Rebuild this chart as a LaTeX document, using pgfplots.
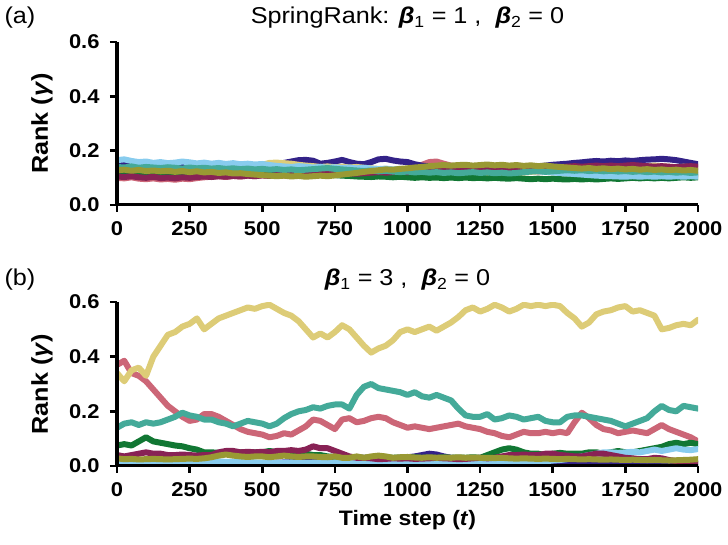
\documentclass[border=0pt]{standalone}
\usepackage{fontspec}
\setmainfont{Liberation Sans}[FakeStretch=1.1]
\usepackage{pgfplots}
\usepackage{pgfplotstable}
\pgfplotsset{compat=1.18}

% Paul Tol "muted" palette
\definecolor{tolrose}{HTML}{CC6677}
\definecolor{tolindigo}{HTML}{332288}
\definecolor{tolsand}{HTML}{DDCC77}
\definecolor{tolgreen}{HTML}{117733}
\definecolor{tolcyan}{HTML}{88CCEE}
\definecolor{tolwine}{HTML}{882255}
\definecolor{tolteal}{HTML}{44AA99}
\definecolor{tololive}{HTML}{999933}

% SpringRank, beta_1 = 1, beta_2 = 0
\pgfplotstableread{
t rose indigo sand green cyan wine teal olive
0 0.100 0.148 0.122 0.115 0.165 0.105 0.140 0.128
25 0.098 0.150 0.125 0.114 0.168 0.103 0.138 0.130
50 0.102 0.146 0.128 0.116 0.162 0.106 0.142 0.126
75 0.097 0.144 0.124 0.113 0.158 0.102 0.137 0.129
100 0.095 0.147 0.126 0.115 0.160 0.100 0.140 0.125
125 0.098 0.142 0.122 0.117 0.155 0.104 0.138 0.127
150 0.094 0.145 0.127 0.114 0.158 0.099 0.136 0.124
175 0.096 0.143 0.124 0.116 0.154 0.101 0.139 0.126
200 0.093 0.146 0.128 0.113 0.156 0.098 0.137 0.122
225 0.097 0.141 0.125 0.115 0.160 0.102 0.134 0.125
250 0.095 0.144 0.129 0.117 0.157 0.100 0.138 0.121
275 0.099 0.142 0.126 0.114 0.153 0.103 0.135 0.124
300 0.102 0.145 0.130 0.116 0.156 0.105 0.137 0.120
325 0.104 0.141 0.128 0.113 0.152 0.103 0.134 0.122
350 0.106 0.143 0.132 0.115 0.155 0.106 0.136 0.118
375 0.103 0.140 0.135 0.117 0.151 0.104 0.133 0.120
400 0.107 0.142 0.136 0.114 0.154 0.107 0.135 0.116
425 0.105 0.139 0.134 0.116 0.150 0.105 0.132 0.117
450 0.108 0.141 0.137 0.113 0.152 0.108 0.134 0.114
475 0.106 0.143 0.140 0.115 0.149 0.106 0.131 0.112
500 0.109 0.140 0.148 0.117 0.151 0.109 0.133 0.110
525 0.107 0.145 0.155 0.114 0.147 0.107 0.130 0.108
550 0.110 0.150 0.156 0.116 0.144 0.110 0.132 0.106
575 0.108 0.155 0.154 0.113 0.142 0.112 0.129 0.108
600 0.111 0.160 0.152 0.115 0.140 0.114 0.131 0.105
625 0.109 0.165 0.148 0.117 0.143 0.116 0.128 0.107
650 0.112 0.166 0.145 0.114 0.141 0.118 0.130 0.104
675 0.110 0.163 0.143 0.116 0.138 0.120 0.132 0.106
700 0.113 0.152 0.140 0.113 0.140 0.118 0.134 0.108
725 0.111 0.155 0.142 0.112 0.137 0.116 0.136 0.106
750 0.114 0.160 0.139 0.110 0.139 0.114 0.133 0.109
775 0.112 0.166 0.141 0.108 0.136 0.115 0.131 0.112
800 0.115 0.158 0.138 0.107 0.138 0.117 0.129 0.115
825 0.113 0.152 0.140 0.105 0.135 0.115 0.127 0.118
850 0.116 0.150 0.137 0.104 0.137 0.117 0.125 0.122
875 0.114 0.158 0.135 0.103 0.134 0.119 0.127 0.125
900 0.117 0.168 0.133 0.105 0.132 0.121 0.124 0.128
925 0.119 0.170 0.131 0.104 0.134 0.119 0.126 0.131
950 0.122 0.164 0.129 0.102 0.131 0.121 0.123 0.130
975 0.125 0.160 0.127 0.104 0.133 0.123 0.121 0.133
1000 0.130 0.158 0.125 0.102 0.130 0.121 0.123 0.135
1025 0.138 0.150 0.123 0.100 0.132 0.123 0.120 0.138
1050 0.148 0.145 0.121 0.102 0.135 0.125 0.122 0.140
1075 0.158 0.142 0.118 0.100 0.138 0.123 0.119 0.143
1100 0.160 0.140 0.115 0.101 0.140 0.125 0.121 0.145
1125 0.152 0.138 0.112 0.099 0.137 0.127 0.118 0.147
1150 0.145 0.136 0.110 0.101 0.139 0.125 0.120 0.145
1175 0.140 0.138 0.108 0.099 0.136 0.127 0.117 0.147
1200 0.137 0.135 0.106 0.101 0.138 0.129 0.119 0.148
1225 0.135 0.137 0.104 0.099 0.135 0.127 0.121 0.145
1250 0.133 0.134 0.106 0.100 0.133 0.129 0.118 0.147
1275 0.131 0.136 0.109 0.098 0.136 0.131 0.120 0.149
1300 0.129 0.133 0.112 0.100 0.134 0.129 0.117 0.146
1325 0.127 0.135 0.114 0.098 0.131 0.131 0.119 0.148
1350 0.129 0.133 0.116 0.097 0.133 0.133 0.116 0.145
1375 0.126 0.136 0.118 0.099 0.130 0.131 0.118 0.147
1400 0.124 0.138 0.120 0.097 0.128 0.133 0.121 0.144
1425 0.126 0.140 0.122 0.095 0.126 0.135 0.123 0.146
1450 0.123 0.142 0.124 0.097 0.124 0.133 0.125 0.143
1475 0.125 0.145 0.126 0.095 0.122 0.135 0.122 0.145
1500 0.122 0.148 0.128 0.097 0.120 0.137 0.124 0.142
1525 0.124 0.150 0.126 0.095 0.118 0.139 0.126 0.140
1550 0.121 0.152 0.128 0.094 0.116 0.141 0.128 0.138
1575 0.123 0.155 0.130 0.096 0.114 0.143 0.126 0.136
1600 0.120 0.157 0.128 0.094 0.112 0.141 0.128 0.134
1625 0.122 0.160 0.130 0.096 0.110 0.143 0.125 0.136
1650 0.119 0.162 0.132 0.094 0.108 0.145 0.127 0.133
1675 0.121 0.160 0.130 0.096 0.107 0.143 0.124 0.135
1700 0.118 0.163 0.133 0.098 0.106 0.145 0.126 0.132
1725 0.120 0.161 0.135 0.096 0.105 0.143 0.123 0.134
1750 0.117 0.164 0.137 0.098 0.104 0.145 0.125 0.131
1775 0.119 0.162 0.139 0.100 0.106 0.147 0.122 0.133
1800 0.116 0.165 0.141 0.098 0.104 0.145 0.124 0.130
1825 0.118 0.167 0.143 0.100 0.106 0.143 0.121 0.132
1850 0.115 0.168 0.145 0.098 0.104 0.141 0.123 0.129
1875 0.117 0.170 0.143 0.100 0.106 0.143 0.120 0.131
1900 0.114 0.168 0.141 0.098 0.104 0.141 0.122 0.128
1925 0.116 0.165 0.139 0.100 0.106 0.139 0.119 0.130
1950 0.113 0.160 0.141 0.102 0.104 0.141 0.121 0.127
1975 0.115 0.155 0.139 0.100 0.106 0.143 0.118 0.129
2000 0.112 0.150 0.137 0.102 0.104 0.141 0.120 0.126
}\rankA

% beta_1 = 3, beta_2 = 0
\pgfplotstableread{
t rose indigo sand green cyan wine teal olive
0 0.370 0.010 0.340 0.075 0.012 0.040 0.140 0.028
25 0.385 0.008 0.310 0.080 0.010 0.035 0.155 0.025
50 0.340 0.009 0.350 0.075 0.012 0.040 0.160 0.026
75 0.330 0.007 0.360 0.090 0.010 0.045 0.150 0.024
100 0.310 0.008 0.330 0.105 0.012 0.050 0.160 0.025
125 0.280 0.009 0.400 0.090 0.011 0.045 0.155 0.026
150 0.250 0.008 0.440 0.085 0.012 0.045 0.160 0.025
175 0.220 0.007 0.480 0.080 0.014 0.040 0.170 0.024
200 0.200 0.008 0.490 0.075 0.015 0.040 0.180 0.025
225 0.180 0.007 0.510 0.072 0.016 0.042 0.195 0.026
250 0.165 0.006 0.520 0.065 0.018 0.040 0.185 0.027
275 0.170 0.007 0.540 0.060 0.017 0.038 0.180 0.026
300 0.190 0.006 0.500 0.050 0.018 0.040 0.170 0.028
325 0.190 0.007 0.520 0.050 0.016 0.040 0.170 0.032
350 0.180 0.008 0.540 0.048 0.017 0.050 0.160 0.038
375 0.165 0.007 0.550 0.050 0.015 0.055 0.155 0.042
400 0.150 0.006 0.560 0.047 0.016 0.055 0.145 0.038
425 0.135 0.007 0.570 0.050 0.014 0.050 0.155 0.035
450 0.125 0.008 0.580 0.048 0.015 0.052 0.165 0.033
475 0.120 0.009 0.575 0.050 0.013 0.050 0.160 0.035
500 0.115 0.010 0.585 0.050 0.012 0.052 0.155 0.035
525 0.105 0.011 0.590 0.055 0.012 0.050 0.145 0.032
550 0.110 0.012 0.575 0.050 0.011 0.055 0.155 0.035
575 0.120 0.013 0.560 0.045 0.012 0.055 0.175 0.038
600 0.115 0.014 0.550 0.050 0.013 0.058 0.190 0.035
625 0.130 0.015 0.530 0.050 0.012 0.055 0.200 0.033
650 0.145 0.016 0.500 0.045 0.011 0.060 0.205 0.035
675 0.170 0.018 0.470 0.040 0.012 0.072 0.215 0.035
700 0.165 0.020 0.485 0.040 0.013 0.065 0.210 0.033
725 0.150 0.022 0.470 0.035 0.012 0.065 0.220 0.032
750 0.135 0.025 0.490 0.033 0.013 0.055 0.225 0.035
775 0.170 0.025 0.515 0.030 0.014 0.045 0.225 0.030
800 0.175 0.022 0.500 0.030 0.015 0.035 0.210 0.030
825 0.160 0.020 0.470 0.032 0.016 0.030 0.260 0.035
850 0.165 0.018 0.440 0.030 0.015 0.030 0.290 0.030
875 0.175 0.020 0.415 0.031 0.014 0.028 0.300 0.035
900 0.180 0.022 0.430 0.030 0.013 0.025 0.285 0.038
925 0.175 0.025 0.440 0.032 0.012 0.026 0.280 0.035
950 0.160 0.028 0.460 0.030 0.012 0.028 0.275 0.030
975 0.150 0.030 0.490 0.031 0.011 0.027 0.270 0.032
1000 0.140 0.032 0.500 0.030 0.012 0.028 0.260 0.033
1025 0.145 0.035 0.490 0.032 0.013 0.026 0.270 0.031
1050 0.140 0.040 0.500 0.030 0.012 0.027 0.255 0.030
1075 0.135 0.045 0.510 0.031 0.012 0.028 0.250 0.032
1100 0.140 0.042 0.495 0.030 0.011 0.030 0.260 0.030
1125 0.145 0.035 0.510 0.032 0.010 0.028 0.250 0.031
1150 0.150 0.030 0.525 0.030 0.010 0.027 0.240 0.030
1175 0.155 0.028 0.545 0.031 0.010 0.025 0.210 0.032
1200 0.145 0.025 0.570 0.030 0.010 0.026 0.185 0.030
1225 0.140 0.022 0.580 0.032 0.010 0.028 0.180 0.031
1250 0.135 0.020 0.565 0.030 0.010 0.030 0.180 0.030
1275 0.125 0.018 0.575 0.040 0.011 0.028 0.190 0.030
1300 0.120 0.015 0.590 0.050 0.011 0.030 0.170 0.029
1325 0.110 0.015 0.580 0.060 0.012 0.035 0.175 0.030
1350 0.105 0.014 0.565 0.065 0.012 0.040 0.185 0.028
1375 0.115 0.013 0.575 0.060 0.013 0.040 0.180 0.027
1400 0.125 0.012 0.590 0.050 0.013 0.042 0.170 0.028
1425 0.120 0.012 0.585 0.045 0.014 0.040 0.175 0.027
1450 0.120 0.011 0.590 0.045 0.015 0.040 0.180 0.026
1475 0.125 0.010 0.585 0.040 0.017 0.045 0.165 0.027
1500 0.120 0.010 0.590 0.045 0.020 0.045 0.160 0.026
1525 0.125 0.009 0.585 0.048 0.022 0.040 0.160 0.025
1550 0.120 0.009 0.560 0.045 0.025 0.038 0.180 0.026
1575 0.160 0.008 0.540 0.045 0.030 0.035 0.185 0.025
1600 0.195 0.008 0.510 0.045 0.035 0.035 0.185 0.024
1625 0.175 0.009 0.525 0.050 0.040 0.040 0.180 0.025
1650 0.150 0.010 0.555 0.050 0.045 0.045 0.175 0.024
1675 0.135 0.010 0.565 0.045 0.050 0.045 0.170 0.023
1700 0.130 0.011 0.570 0.050 0.050 0.040 0.165 0.024
1725 0.120 0.012 0.580 0.055 0.048 0.035 0.155 0.023
1750 0.125 0.012 0.585 0.050 0.050 0.030 0.145 0.022
1775 0.130 0.013 0.565 0.050 0.052 0.028 0.155 0.023
1800 0.125 0.012 0.570 0.055 0.050 0.025 0.165 0.022
1825 0.120 0.012 0.560 0.060 0.055 0.025 0.175 0.021
1850 0.135 0.011 0.550 0.065 0.060 0.030 0.200 0.022
1875 0.150 0.011 0.500 0.070 0.055 0.028 0.220 0.021
1900 0.135 0.010 0.505 0.080 0.060 0.022 0.205 0.020
1925 0.125 0.010 0.515 0.085 0.065 0.018 0.200 0.021
1950 0.115 0.009 0.520 0.080 0.060 0.015 0.220 0.022
1975 0.105 0.009 0.515 0.085 0.058 0.012 0.215 0.023
2000 0.090 0.008 0.535 0.080 0.062 0.010 0.210 0.025
}\rankB

\pgfplotsset{
  rankaxis/.style={
    scale only axis, width=581bp,
    xmin=0, xmax=2000, ymin=0, ymax=0.6,
    axis lines=left,
    axis line style={line width=3bp, -},
    tick align=outside,
    major tick length=7bp,
    every tick/.style={black, line width=2.6bp},
    xtick={0,250,...,2000},
    ytick={0,0.2,0.4,0.6},
    /pgf/number format/assume math mode=true,
    /pgf/number format/1000 sep={},
    tick label style={font=\fontsize{20}{24}\selectfont\bfseries},
    xticklabel style={yshift=-6bp},
    yticklabel style={xshift=-7bp,
                      /pgf/number format/fixed,
                      /pgf/number format/fixed zerofill,
                      /pgf/number format/precision=1},
    ylabel={Rank (\textit{γ})},
    ylabel style={font=\fontsize{23}{27}\selectfont\bfseries,
                  at={(axis description cs:-0.129,0.5)}, anchor=center, rotate=0},
    axis on top,
    clip mode=individual,
    every axis plot/.append style={line width=6bp, line join=round, line cap=round, no markers},
  }
}

\begin{document}
\begin{tikzpicture}
\useasboundingbox (0,0) rectangle (728bp,545bp);

% (a) SpringRank, beta_1 = 1
\begin{axis}[rankaxis, height=163bp, at={(117bp,340bp)}, anchor=south west]
  \addplot[tolrose]   table[x=t, y=rose]   {\rankA};
  \addplot[tolindigo] table[x=t, y=indigo] {\rankA};
  \addplot[tolsand]   table[x=t, y=sand]   {\rankA};
  \addplot[tolgreen]  table[x=t, y=green]  {\rankA};
  \addplot[tolcyan]   table[x=t, y=cyan]   {\rankA};
  \addplot[tolwine]   table[x=t, y=wine]   {\rankA};
  \addplot[tolteal]   table[x=t, y=teal]   {\rankA};
  \addplot[tololive]  table[x=t, y=olive]  {\rankA};
  \node[font=\fontsize{23}{26}\selectfont] at (axis description cs:0.5,1.147)
    {SpringRank: \textbf{\textit{β}}\textsubscript{1} = 1 ,\ \ \textbf{\textit{β}}\textsubscript{2} = 0};
  \node[font=\fontsize{23}{26}\selectfont] at (axis description cs:-0.167,1.147) {(a)};
\end{axis}

% (b) beta_1 = 3
\begin{axis}[rankaxis, height=164bp, at={(117bp,79bp)}, anchor=south west,
  xlabel={Time step (\textit{t})},
  xlabel style={font=\fontsize{21}{25}\selectfont\bfseries,
                at={(axis description cs:0.5,-0.33)}, anchor=center}]
  \addplot[tolrose]   table[x=t, y=rose]   {\rankB};
  \addplot[tolindigo] table[x=t, y=indigo] {\rankB};
  \addplot[tolsand]   table[x=t, y=sand]   {\rankB};
  \addplot[tolgreen]  table[x=t, y=green]  {\rankB};
  \addplot[tolcyan]   table[x=t, y=cyan]   {\rankB};
  \addplot[tolwine]   table[x=t, y=wine]   {\rankB};
  \addplot[tolteal]   table[x=t, y=teal]   {\rankB};
  \addplot[tololive]  table[x=t, y=olive]  {\rankB};
  \node[font=\fontsize{23}{26}\selectfont] at (axis description cs:0.5,1.134)
    {\textbf{\textit{β}}\textsubscript{1} = 3 ,\ \ \textbf{\textit{β}}\textsubscript{2} = 0};
  \node[font=\fontsize{23}{26}\selectfont] at (axis description cs:-0.167,1.134) {(b)};
\end{axis}
\end{tikzpicture}
\end{document}
